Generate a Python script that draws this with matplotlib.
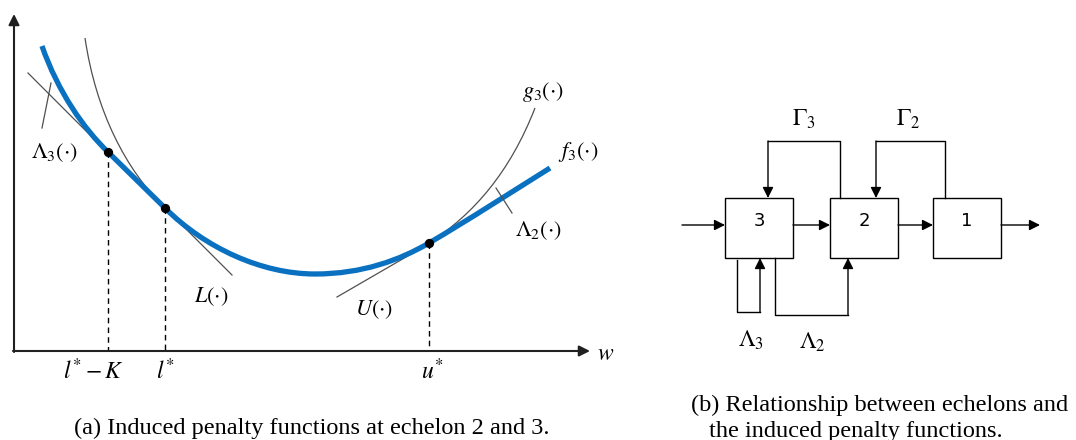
import numpy as np
import matplotlib
matplotlib.use("Agg")
import matplotlib.pyplot as plt
from matplotlib.path import Path
from matplotlib.patches import PathPatch, Rectangle

plt.rcParams.update({
    "font.family": ["Liberation Serif", "DejaVu Serif"],
    "mathtext.fontset": "stix",
})

# ---- panel (a): curves as cubic bezier control points (pixel coords) ----
# blue f3: start, then (c1, c2, end) triples
f3_pts = [(42, 46),
          (58, 92), (84, 129), (108, 152),
          (127, 171), (146, 189), (165, 208),
          (205, 248), (262, 274), (315, 274),
          (362, 274), (400, 260), (429, 243),
          (470, 219), (510, 193), (550, 168)]
# thin g3, shares the middle of f3
g3_pts = [(85, 38),
          (96, 112), (126, 170), (165, 208),
          (205, 248), (262, 274), (315, 274),
          (362, 274), (400, 260), (429, 243),
          (474, 214), (510, 172), (535, 108)]
# straight tangent lines
lam3_line = [(28, 73), (115, 160)]
L_line = [(135, 178), (232, 275)]
U_line = [(337, 297), (425, 246)]
lam3_leader = [(51, 83), (42, 128)]
lam2_leader = [(496, 188), (512, 213)]

points_x = [108, 165, 429]
points_y = [152, 208, 243]
tick_labels = [r"$l^{*}-K$", r"$l^{*}$", r"$u^{*}$"]
tick_x = [94, 165, 432]

curve_labels = [r"$\Lambda_3(\cdot)$", r"$g_3(\cdot)$", r"$f_3(\cdot)$",
                r"$\Lambda_2(\cdot)$", r"$L(\cdot)$", r"$U(\cdot)$"]
curve_label_xy = [(54, 153), (543, 92), (578, 152), (538, 231), (211, 297), (374, 310)]

# ---- panel (b): block diagram ----
box_names = ["3", "2", "1"]
box_left = [725, 830, 933]
box_top = 198
box_w, box_h = 68, 60
gamma_loops = [[(840, 198), (840, 141), (768, 141), (768, 198)],
               [(945, 198), (945, 141), (876, 141), (876, 198)]]
gamma_labels = [r"$\Gamma_3$", r"$\Gamma_2$"]
gamma_xy = [(804, 119), (908, 119)]
lam_loops = [[(737, 260), (737, 312), (760, 312), (760, 258)],
             [(775, 258), (775, 315), (848, 315), (848, 258)]]
lam_labels = [r"$\Lambda_3$", r"$\Lambda_2$"]
lam_xy = [(751, 340), (812, 342)]


def bezier(pts):
    codes = [Path.MOVETO] + [Path.CURVE4] * (len(pts) - 1)
    return Path(pts, codes)


def arrow(ax, p0, p1):
    ax.annotate("", xy=p1, xytext=p0,
                arrowprops=dict(arrowstyle="-|>", color="black", lw=1,
                                mutation_scale=16, shrinkA=0, shrinkB=0))


fig = plt.figure(figsize=(10.76, 4.4), dpi=100)
ax = fig.add_axes([0, 0, 1, 1])
ax.set_xlim(0, 1076)
ax.set_ylim(440, 0)
ax.axis("off")

# axes of panel (a)
ax.annotate("", xy=(14, 14), xytext=(14, 352),
            arrowprops=dict(arrowstyle="-|>", color="#202020", lw=1.5, mutation_scale=16, shrinkA=0, shrinkB=0))
ax.annotate("", xy=(590, 351), xytext=(13, 351),
            arrowprops=dict(arrowstyle="-|>", color="#202020", lw=1.5, mutation_scale=16, shrinkA=0, shrinkB=0))
ax.text(597, 354, r"$w$", fontsize=17, ha="left", va="center")

thin = dict(color="#505050", lw=0.9)
ax.add_patch(PathPatch(bezier(g3_pts), fill=False, zorder=2, **thin))
for seg in [lam3_line, L_line, U_line, lam3_leader]:
    xs, ys = zip(*seg)
    ax.plot(xs, ys, zorder=2, **thin)
xs, ys = zip(*lam2_leader)
ax.plot(xs, ys, zorder=4, **thin)
ax.add_patch(PathPatch(bezier(f3_pts), fill=False, color="#0a70c0", lw=3.8,
                       capstyle="butt", zorder=3))

for x, y in zip(points_x, points_y):
    ax.plot([x, x], [y, 351], color="black", lw=1, ls=(0, (4, 3)), zorder=1)
ax.scatter(points_x, points_y, s=32, color="black", zorder=5)

for x, lab in zip(tick_x, tick_labels):
    ax.text(x, 371, lab, fontsize=17, ha="center", va="center")
for (x, y), lab in zip(curve_label_xy, curve_labels):
    ax.text(x, y, lab, fontsize=16, ha="center", va="center")

ax.text(312, 428, "(a) Induced penalty functions at echelon 2 and 3.",
        fontsize=17.5, ha="center", va="center")

# panel (b)
for x0, name in zip(box_left, box_names):
    ax.add_patch(Rectangle((x0, box_top), box_w, box_h, fill=False, ec="black", lw=1))
    ax.text(x0 + box_w / 2, box_top + 23, name, fontsize=13, ha="center", va="center",
            family=["DejaVu Sans"])
ymid = box_top + 27
arrow(ax, (682, ymid), (725, ymid))
for i in range(2):
    arrow(ax, (box_left[i] + box_w, ymid), (box_left[i + 1], ymid))
arrow(ax, (box_left[2] + box_w, ymid), (1040, ymid))

for loop in gamma_loops + lam_loops:
    xs, ys = zip(*loop)
    ax.plot(xs[:-1], ys[:-1], color="black", lw=1)
    arrow(ax, loop[-2], loop[-1])
for (x, y), lab in zip(gamma_xy, gamma_labels):
    ax.text(x, y, lab, fontsize=17, ha="center", va="center")
for (x, y), lab in zip(lam_xy, lam_labels):
    ax.text(x, y, lab, fontsize=17, ha="center", va="center")

ax.text(880, 405, "(b) Relationship between echelons and", fontsize=17.5, ha="center", va="center")
ax.text(856, 431, "the induced penalty functions.", fontsize=17.5, ha="center", va="center")

fig.savefig("out.png", dpi=100)
